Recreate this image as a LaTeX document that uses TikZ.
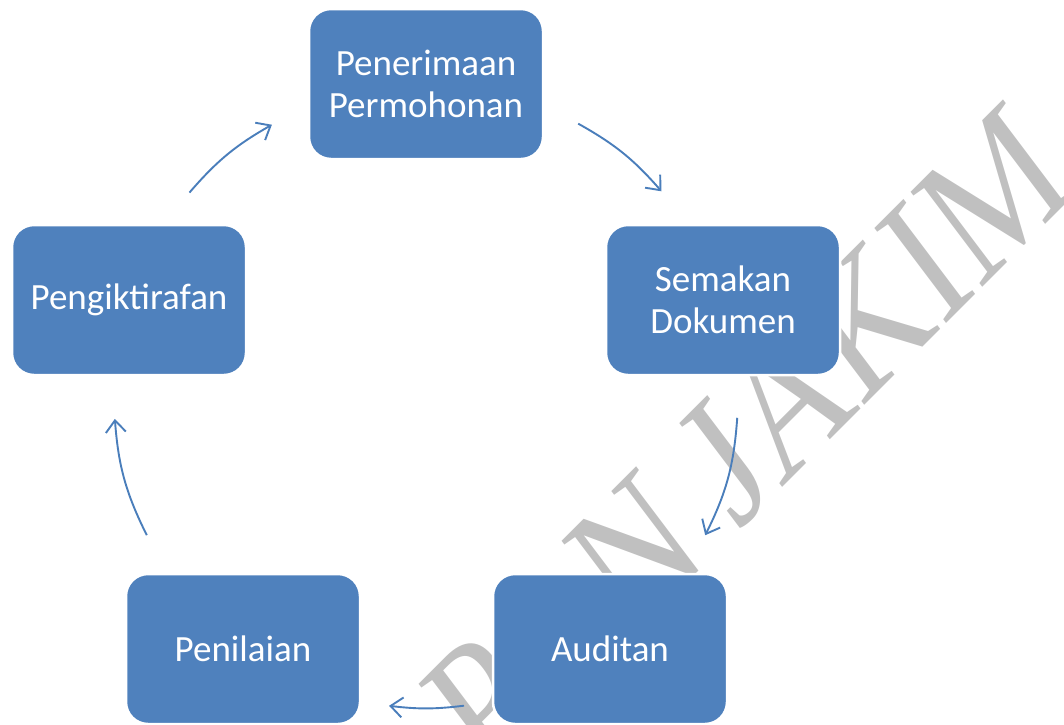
\documentclass[tikz,border=0pt]{standalone}
\usepackage{fontspec}
\setmainfont{Carlito}
\newfontfamily\wmfont{Liberation Serif}
\usetikzlibrary{arrows.meta,calc}
\definecolor{boxblue}{HTML}{4F81BD}
\definecolor{arrblue}{HTML}{4A7EBB}
\definecolor{wmgrey}{HTML}{C0C0C0}
\tikzset{
  stepbox/.style={draw=white, line width=2.5pt, fill=boxblue, rounded corners=22pt,
    minimum width=234pt, minimum height=150pt, inner sep=0pt, align=center,
    text=white, font=\fontsize{37}{42}\selectfont},
  cyc/.style={draw=arrblue, line width=1.9pt,
    -{Straight Barb[length=12pt,width=20pt,line width=1.9pt]}},
  wmark/.style={text=wmgrey, inner sep=0pt, transform shape,
    font=\wmfont\fontsize{180}{180}\selectfont}
}
\begin{document}
\begin{tikzpicture}[x=1pt,y=1pt]
\useasboundingbox (0,0) rectangle (1064,-724);
% watermark (behind the boxes)
\begin{scope}[shift={(630,-640)}, rotate=45, xslant=0.14, xscale=0.874]
  \node[wmark, anchor=base west] (wmA) at (0,0) {N JAKIM};
  \node[wmark, anchor=base east] (wmB) at (-130,0) {P};
\end{scope}
% boxes
\node[stepbox] (pen) at (426,-84) {Penerimaan\\Permohonan};
\node[stepbox] (sem) at (723,-300) {Semakan\\Dokumen};
\node[stepbox] (aud) at (610,-649) {Auditan};
\node[stepbox] (nil) at (243,-649) {Penilaian};
\node[stepbox] (ikt) at (129,-300) {Pengiktirafan};
% cycle arrows on circle centred at (426,-396), r=312
\coordinate (c) at (426,-396);
\coordinate (a1s) at ($(c)+(60.8:312)$);
\coordinate (a1e) at ($(c)+(41:312)$);
\coordinate (a2s) at ($(c)+(-4:312)$);
\coordinate (a2e) at ($(c)+(-26.5:312)$);
\coordinate (a3s) at ($(c)+(-83:312)$);
\coordinate (a3e) at ($(c)+(-96.8:312)$);
\coordinate (a4s) at ($(c)+(-153.5:312)$);
\coordinate (a4e) at ($(c)+(-175.8:312)$);
\coordinate (a5s) at ($(c)+(139.3:312)$);
\coordinate (a5e) at ($(c)+(119.6:312)$);
\draw[cyc] (a1s) to[bend left=9.9] (a1e);
\draw[cyc] (a2s) to[bend left=11.2] (a2e);
\draw[cyc] (a3s) to[bend left=6.9] (a3e);
\draw[cyc] (a4s) to[bend left=11.1] (a4e);
\draw[cyc] (a5s) to[bend left=9.8] (a5e);
\end{tikzpicture}
\end{document}
